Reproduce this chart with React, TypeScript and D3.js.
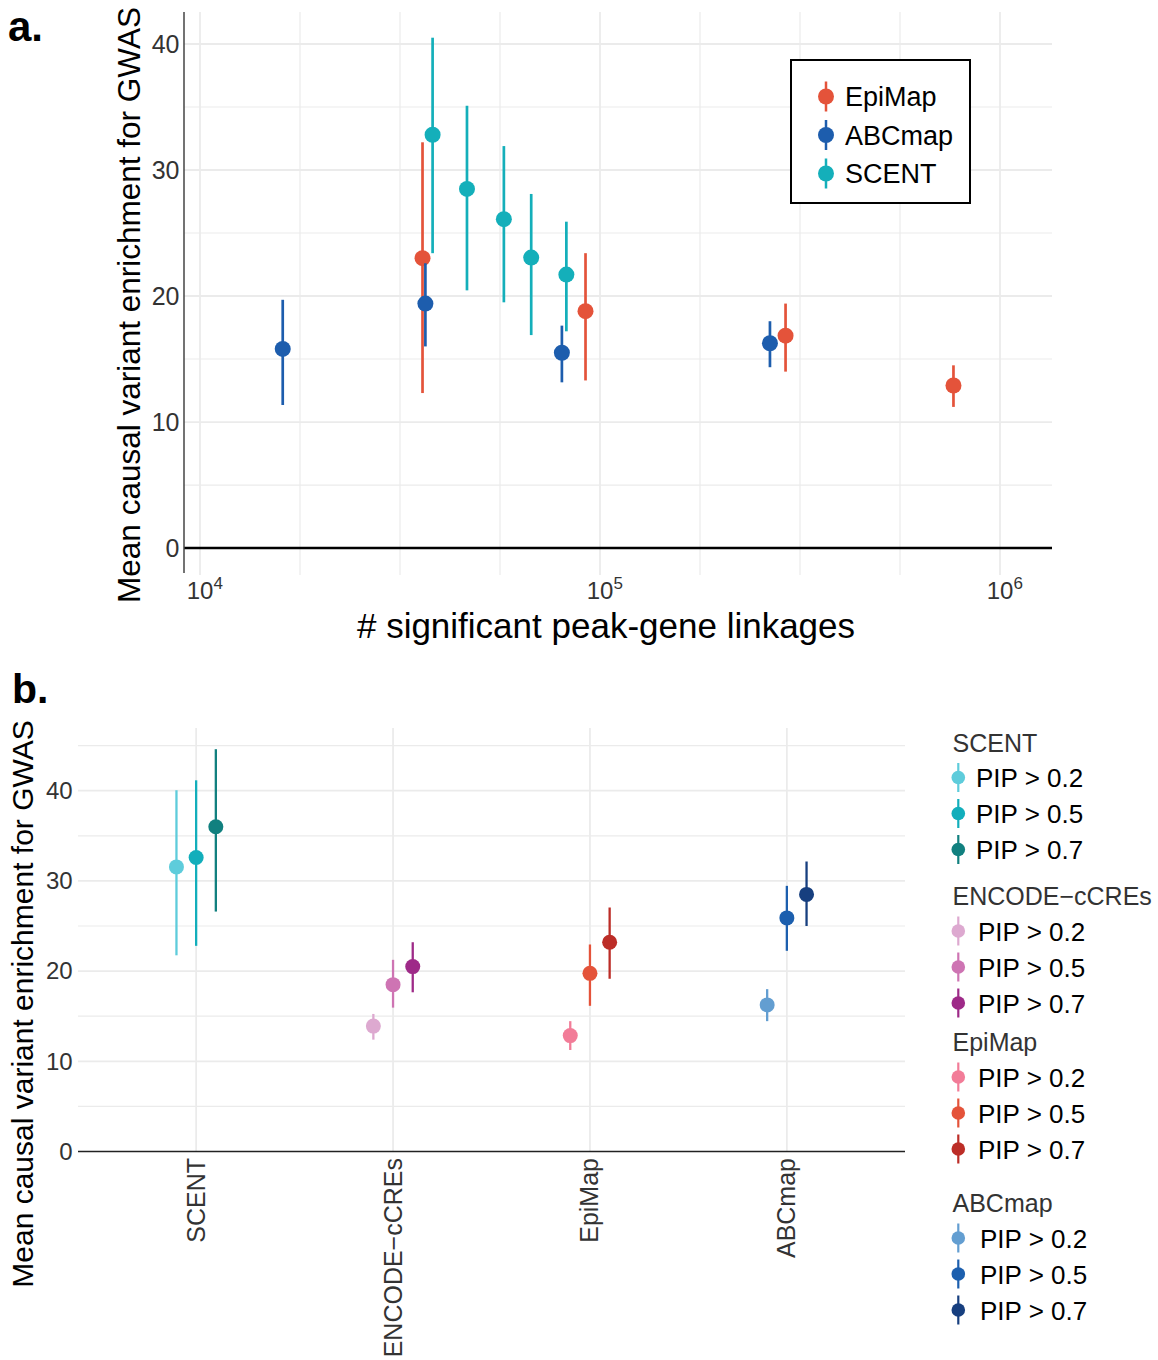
import React from "react";
import * as d3 from "d3";

// ---------- Panel a: enrichment vs. number of peak-gene linkages ----------
const linkMethods = ["EpiMap", "ABCmap", "SCENT"];
const linkColors = ["#E4533A", "#1D5DAD", "#14AFBA"];

// one entry per estimate
const aMethod = ["ABCmap", "EpiMap", "ABCmap", "SCENT", "SCENT", "SCENT", "SCENT", "SCENT", "ABCmap", "EpiMap", "ABCmap", "EpiMap", "EpiMap"];
const aLinkages = [16100, 36000, 36600, 38150, 46500, 57500, 67300, 82400, 80300, 92000, 266000, 291000, 765000];
const aMean = [15.8, 23.0, 19.4, 32.8, 28.5, 26.1, 23.05, 21.7, 15.5, 18.8, 16.25, 16.85, 12.9];
const aLower = [11.35, 12.3, 16.0, 23.4, 20.45, 19.5, 16.9, 17.2, 13.15, 13.3, 14.35, 14.0, 11.2];
const aUpper = [19.7, 32.2, 22.6, 40.5, 35.1, 31.9, 28.1, 25.9, 17.65, 23.4, 18.0, 19.4, 14.5];

const aYTicks = [0, 10, 20, 30, 40];
const aXTickExps = [4, 5, 6];

// ---------- Panel b: enrichment by method and PIP threshold ----------
const bMethods = ["SCENT", "ENCODE\u2212cCREs", "EpiMap", "ABCmap"];
const pipLabels = ["PIP > 0.2", "PIP > 0.5", "PIP > 0.7"];
const bMean = [
  [31.55, 32.6, 36.0],
  [13.9, 18.5, 20.5],
  [12.85, 19.75, 23.2],
  [16.25, 25.9, 28.5],
];
const bLower = [
  [21.75, 22.8, 26.6],
  [12.4, 15.95, 17.65],
  [11.25, 16.15, 19.15],
  [14.45, 22.25, 25.0],
];
const bUpper = [
  [40.05, 41.15, 44.6],
  [15.25, 21.25, 23.2],
  [14.45, 22.95, 27.05],
  [18.0, 29.45, 32.15],
];
const bColors = [
  ["#5ECCDB", "#12AEBB", "#11807F"],
  ["#DDA9D0", "#CE74B3", "#9E2A88"],
  ["#F27C98", "#E4533A", "#BC2D27"],
  ["#639ED1", "#1C5FAE", "#173F7F"],
];
const bYTicks = [0, 10, 20, 30, 40];

const FONT = "'Liberation Sans', Arial, Helvetica, sans-serif";
const GRID = "#EBEBEB";
const TICK = "#333333";

function PanelA() {
  const left = 184, right = 1052, top = 12, bottom = 575;
  const x = d3.scaleLog().domain([Math.pow(10, 3.96), Math.pow(10, 6.13)]).range([left, right]);
  const y = d3.scaleLinear().domain([-2.14, 42.54]).range([bottom, top]);
  const color = d3.scaleOrdinal<string, string>().domain(linkMethods).range(linkColors);

  const vGrid = d3.range(16, 25).map((k) => Math.pow(10, k / 4));
  const hGrid = d3.range(5, 45, 5);
  const idx = d3.range(aMean.length);
  const ordered = linkMethods.flatMap((m) => idx.filter((i) => aMethod[i] === m));

  return (
    <g>
      {vGrid.map((v, i) => (
        <line key={"v" + i} x1={x(v)} x2={x(v)} y1={top} y2={bottom} stroke={GRID}
          strokeWidth={i % 4 === 0 ? 1.8 : 1.2} />
      ))}
      {hGrid.map((v) => (
        <line key={"h" + v} x1={left} x2={right} y1={y(v)} y2={y(v)} stroke={GRID}
          strokeWidth={v % 10 === 0 ? 1.8 : 1.2} />
      ))}
      <line x1={left} x2={right} y1={y(0)} y2={y(0)} stroke="#000" strokeWidth={2.4} />
      <line x1={left} x2={left} y1={top} y2={bottom - 2} stroke="#444" strokeWidth={1.5} />

      {aYTicks.map((t) => (
        <text key={"yt" + t} x={179.5} y={y(t) + 8.5} textAnchor="end" fontSize={25} fill={TICK}>{t}</text>
      ))}
      {aXTickExps.map((e) => (
        <g key={"xt" + e}>
          <text x={x(Math.pow(10, e))} y={599} textAnchor="middle" fontSize={24} fill={TICK}>10</text>
          <text x={x(Math.pow(10, e)) + 13.5} y={589} textAnchor="start" fontSize={17} fill={TICK}>{e}</text>
        </g>
      ))}

      {ordered.map((i) => (
        <g key={"pt" + i}>
          <line x1={x(aLinkages[i])} x2={x(aLinkages[i])} y1={y(aLower[i])} y2={y(aUpper[i])}
            stroke={color(aMethod[i])} strokeWidth={2.7} />
          <circle cx={x(aLinkages[i])} cy={y(aMean[i])} r={8} fill={color(aMethod[i])} />
        </g>
      ))}

      <text transform={`translate(140,305) rotate(-90)`} textAnchor="middle" fontSize={31.5} fill="#000">
        Mean causal variant enrichment for GWAS
      </text>
      <text x={606} y={638} textAnchor="middle" fontSize={35} fill="#000"># significant peak-gene linkages</text>

      <rect x={791} y={60} width={179} height={143} fill="#fff" stroke="#000" strokeWidth={2} />
      {linkMethods.map((m, i) => {
        const cy = 96.5 + i * 38.5;
        return (
          <g key={"lg" + m}>
            <line x1={826} x2={826} y1={cy - 15} y2={cy + 15} stroke={linkColors[i]} strokeWidth={2.5} />
            <circle cx={826} cy={cy} r={8} fill={linkColors[i]} />
            <text x={845} y={cy + 9.5} fontSize={27} fill="#000">{m}</text>
          </g>
        );
      })}
    </g>
  );
}

function PanelB() {
  const left = 78, right = 905, top = 728, bottom = 1151.5;
  const x = d3.scalePoint<string>().domain(bMethods).range([left, right]).padding(0.6);
  const y = d3.scaleLinear().domain([0, 46.95]).range([bottom, top]);
  const step = x.step();
  const dodge = d3.scalePoint<string>().domain(pipLabels).range([-0.1 * step, 0.1 * step]);
  const hGrid = d3.range(5, 50, 5);

  // legend layout: title baselines and label offsets for each group
  const legendTitleY = [751.5, 905, 1051, 1212];
  const legendTextX = [976, 978, 978, 980];

  return (
    <g>
      {hGrid.map((v) => (
        <line key={"h" + v} x1={left} x2={right} y1={y(v)} y2={y(v)} stroke={GRID}
          strokeWidth={v % 10 === 0 ? 1.8 : 1.2} />
      ))}
      {bMethods.map((m) => (
        <line key={"v" + m} x1={x(m)} x2={x(m)} y1={top} y2={bottom} stroke={GRID} strokeWidth={1.8} />
      ))}
      <line x1={left} x2={right} y1={y(0)} y2={y(0)} stroke="#222" strokeWidth={1.6} />

      {bYTicks.map((t) => (
        <text key={"yt" + t} x={72.7} y={y(t) + 8.3} textAnchor="end" fontSize={24} fill={TICK}>{t}</text>
      ))}
      {bMethods.map((m) => (
        <text key={"xt" + m} transform={`translate(${(x(m) as number) + 8.5},1158) rotate(-90)`}
          textAnchor="end" fontSize={25} fill={TICK}>{m}</text>
      ))}

      {bMethods.map((m, gi) =>
        pipLabels.map((p, pi) => {
          const cx = (x(m) as number) + (dodge(p) as number);
          return (
            <g key={m + p}>
              <line x1={cx} x2={cx} y1={y(bLower[gi][pi])} y2={y(bUpper[gi][pi])}
                stroke={bColors[gi][pi]} strokeWidth={2.3} />
              <circle cx={cx} cy={y(bMean[gi][pi])} r={7.5} fill={bColors[gi][pi]} />
            </g>
          );
        })
      )}

      <text transform={`translate(33,1004) rotate(-90)`} textAnchor="middle" fontSize={30} fill="#000">
        Mean causal variant enrichment for GWAS
      </text>

      {bMethods.map((m, gi) => (
        <g key={"lg" + m}>
          <text x={952.5} y={legendTitleY[gi]} fontSize={25} fill={TICK}>{m}</text>
          {pipLabels.map((p, pi) => {
            const base = legendTitleY[gi] + 35.5 + pi * 36;
            const cy = base - 9.5;
            return (
              <g key={"lgi" + p}>
                <line x1={958.3} x2={958.3} y1={cy - 14.5} y2={cy + 14.5} stroke={bColors[gi][pi]} strokeWidth={2.2} />
                <circle cx={958.3} cy={cy} r={6.8} fill={bColors[gi][pi]} />
                <text x={legendTextX[gi]} y={base} fontSize={26} fill="#000">{p}</text>
              </g>
            );
          })}
        </g>
      ))}
    </g>
  );
}

export default function App() {
  return (
    <svg width={1158} height={1360} viewBox="0 0 1158 1360"
      style={{ position: "absolute", left: 0, top: 0, background: "#fff" }}
      fontFamily={FONT}>
      <rect x={0} y={0} width={1158} height={1360} fill="#fff" />
      <text x={8} y={40.7} fontSize={42} fontWeight="bold" fill="#000">a.</text>
      <text x={12} y={702.7} fontSize={41} fontWeight="bold" fill="#000">b.</text>
      <PanelA />
      <PanelB />
    </svg>
  );
}
